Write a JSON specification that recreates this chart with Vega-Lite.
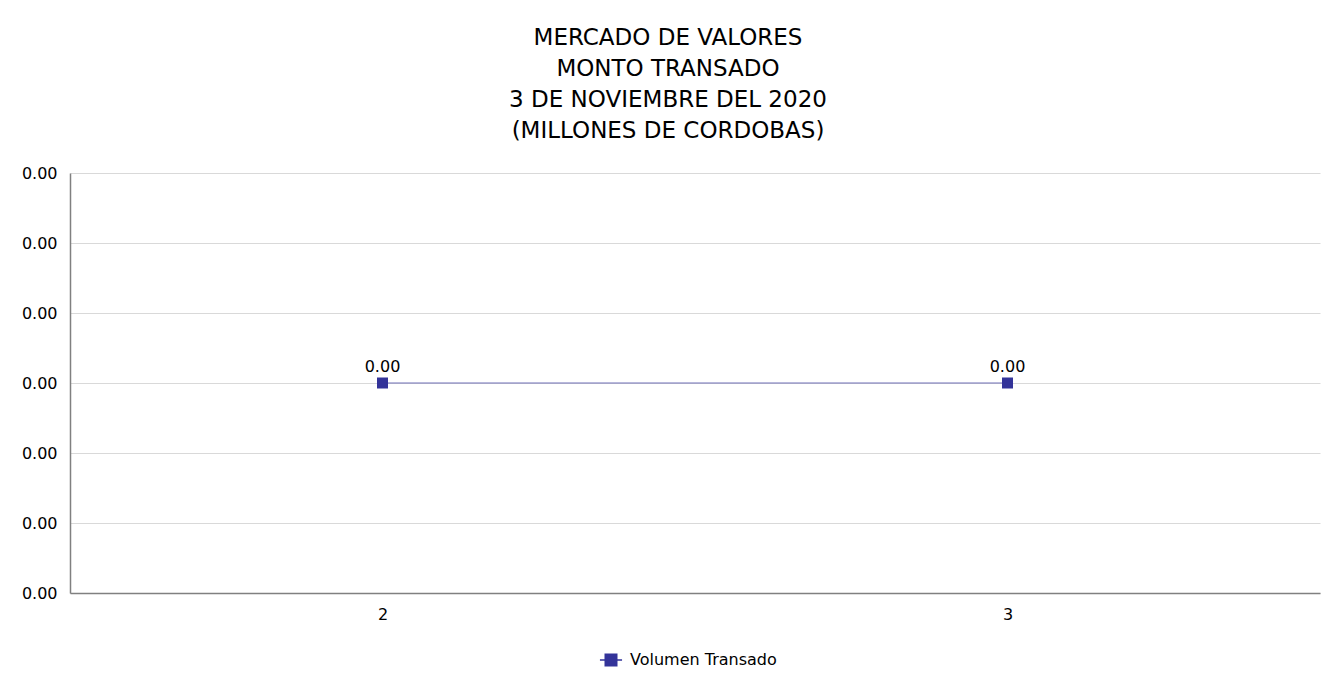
{
  "$schema": "https://vega.github.io/schema/vega-lite/v6.json",
  "width": 1250,
  "height": 420,
  "autosize": {"type": "none"},
  "padding": {"left": 70, "top": 173, "right": 10, "bottom": 101},
  "background": "white",
  "title": {
    "text": ["MERCADO DE VALORES", "MONTO TRANSADO", "3 DE NOVIEMBRE DEL 2020", "(MILLONES DE CORDOBAS)"],
    "anchor": "middle",
    "dx": -27,
    "font": "DejaVu Sans",
    "fontSize": 23,
    "fontWeight": "normal",
    "lineHeight": 31,
    "color": "#000000",
    "offset": 22
  },
  "data": {
    "values": [
      {"Dia": "2", "Volumen": 0, "Serie": "Volumen Transado"},
      {"Dia": "3", "Volumen": 0, "Serie": "Volumen Transado"}
    ]
  },
  "encoding": {
    "x": {
      "field": "Dia",
      "type": "ordinal",
      "scale": {"type": "point", "padding": 0.5},
      "axis": {
        "title": null,
        "labelAngle": 0,
        "ticks": false,
        "grid": false,
        "domainColor": "#808080",
        "domainWidth": 1.5,
        "labelFont": "DejaVu Sans",
        "labelFontSize": 16,
        "labelColor": "#000000",
        "labelPadding": 13
      }
    },
    "y": {
      "field": "Volumen",
      "type": "quantitative",
      "scale": {"domain": [-0.003, 0.003], "nice": false, "zero": false},
      "axis": {
        "title": null,
        "values": [-0.003, -0.002, -0.001, 0, 0.001, 0.002, 0.003],
        "format": ".2f",
        "ticks": false,
        "domainColor": "#808080",
        "domainWidth": 1.5,
        "gridColor": "#d9d9d9",
        "labelFont": "DejaVu Sans",
        "labelFontSize": 16,
        "labelColor": "#000000",
        "labelPadding": 13
      }
    }
  },
  "layer": [
    {
      "mark": {"type": "line", "color": "#7070b8", "strokeWidth": 1.2},
      "encoding": {}
    },
    {
      "mark": {"type": "point", "shape": "square", "filled": true, "size": 121, "opacity": 1},
      "encoding": {
        "color": {
          "field": "Serie",
          "type": "nominal",
          "scale": {"range": ["#333399"]},
          "legend": {
            "title": null,
            "orient": "none",
            "legendX": 528,
            "legendY": 474,
            "direction": "horizontal",
            "symbolType": "M-0.85,-0.05H0.85V0.05H-0.85Z M-0.5,-0.5H0.5V0.5H-0.5Z",
            "symbolSize": 676,
            "symbolFillColor": "#333399",
            "symbolStrokeWidth": 0,
            "labelFont": "DejaVu Sans",
            "labelFontSize": 16,
            "labelColor": "#000000",
            "labelOffset": 6
          }
        }
      }
    },
    {
      "mark": {"type": "text", "dy": -16, "font": "DejaVu Sans", "fontSize": 16, "color": "#000000"},
      "encoding": {
        "text": {"field": "Volumen", "type": "quantitative", "format": ".2f"}
      }
    }
  ],
  "config": {
    "view": {"stroke": null}
  }
}
